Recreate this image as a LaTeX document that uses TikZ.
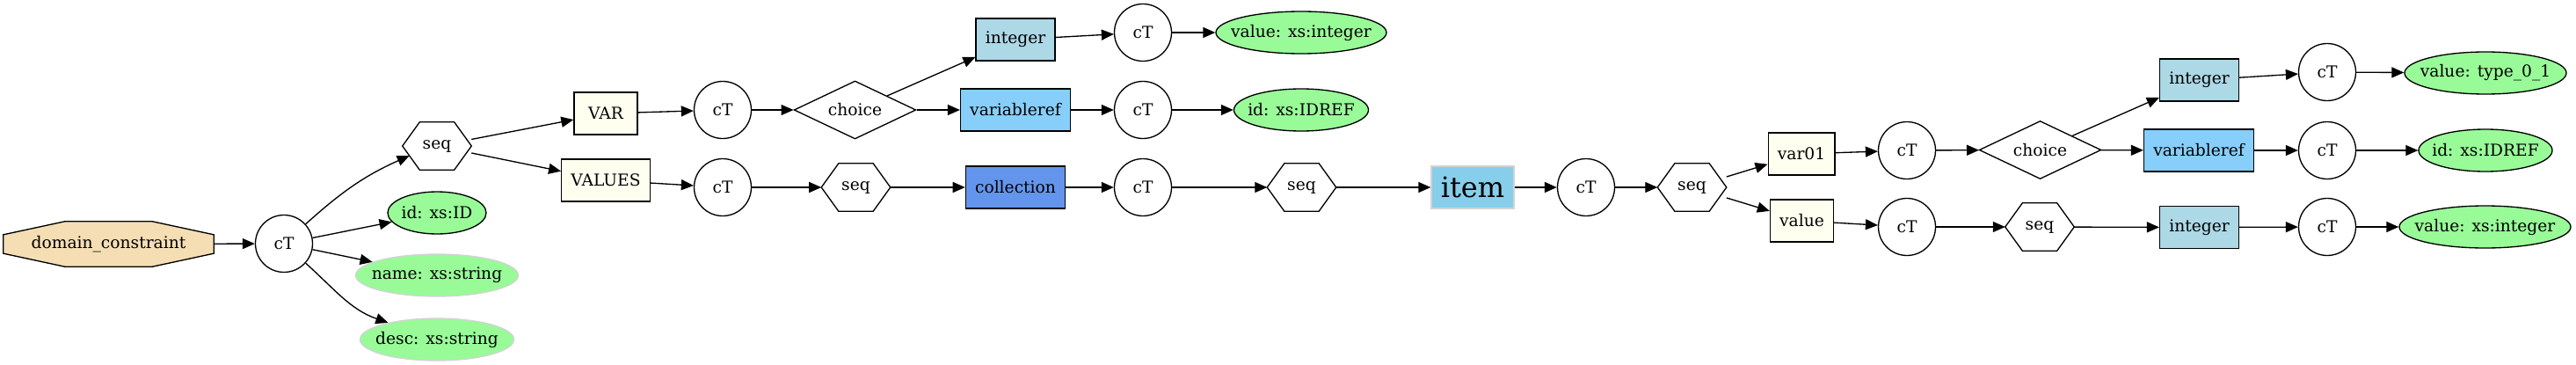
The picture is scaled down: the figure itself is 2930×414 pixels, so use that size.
\documentclass[tikz,border=0pt]{standalone}
\usepackage{fontspec}
\setmainfont{DejaVu Serif}
\usepackage{tikz}
\usetikzlibrary{arrows.meta,shapes.geometric,backgrounds,calc}
\definecolor{wheatColor}{HTML}{F5DEB3}
\definecolor{ivoryColor}{HTML}{FFFFF0}
\definecolor{intBlue}{HTML}{ADD8E6}
\definecolor{refBlue}{HTML}{87CEFA}
\definecolor{collBlue}{HTML}{6495ED}
\definecolor{itemBlue}{HTML}{87CEEB}
\definecolor{attrGreen}{HTML}{98FB98}
\definecolor{edgeGray}{HTML}{D3D3D3}
\newcommand{\zw}[1]{\makebox[0pt]{#1}}

\begin{document}
\begin{tikzpicture}[
    x=0.75pt, y=0.75pt,
    every node/.style={font=\fontsize{14pt}{16pt}\selectfont},
    box/.style={draw, line width=1pt, fill=ivoryColor, minimum height=36pt, minimum width=54pt, inner xsep=8pt, inner ysep=0pt},
    ct/.style={draw, circle, line width=1pt, fill=white, minimum size=48.75pt, inner sep=0pt},
    hexa/.style={minimum width=58.5pt, minimum height=40.5pt, inner sep=0pt},
    octo/.style={minimum width=179.25pt, minimum height=38.25pt, inner sep=0pt},
    chc/.style={draw, diamond, aspect=2, line width=1pt, fill=white, minimum width=104pt, minimum height=49.5pt, inner sep=0pt},
    attr/.style={ellipse, draw, line width=1pt, fill=attrGreen, minimum height=36pt, inner sep=0pt},
    arr/.style={-{Triangle[length=10.5pt,width=9pt]}, line width=1pt}
  ]
  \useasboundingbox (0,0) rectangle (2930,-414);

  \node[octo] (domCon) at (123.5,-277.5) {domain\_constraint};
  \node[ct] (ctDom) at (323,-277) {cT};
  \node[hexa] (seqDom) at (497,-166) {seq};
  \node[attr, minimum width=84pt] (idAttr) at (497,-242) {\zw{id: xs:ID}};
  \node[attr, draw=edgeGray, minimum width=138.75pt] (nameAttr) at (497,-313) {\zw{name: xs:string}};
  \node[attr, draw=edgeGray, minimum width=131.25pt] (descAttr) at (497,-386) {\zw{desc: xs:string}};

  \node[box] (varBox) at (689,-129) {VAR};
  \node[box] (valuesBox) at (689,-205) {VALUES};
  \node[ct] (ctVar) at (822,-125) {cT};
  \node[ct] (ctValues) at (822,-213) {cT};
  \node[chc] (choiceVar) at (972.5,-125) {choice};
  \node[hexa] (seqValues) at (973.5,-213) {seq};
  \node[box, fill=intBlue] (intVar) at (1155,-45) {integer};
  \node[box, fill=refBlue] (refVar) at (1155,-125) {variableref};
  \node[box, fill=collBlue] (collBox) at (1155,-213) {collection};
  \node[ct] (ctIntVar) at (1300,-37) {cT};
  \node[ct] (ctRefVar) at (1300,-125) {cT};
  \node[ct] (ctColl) at (1300,-213) {cT};
  \node[attr, minimum width=145.5pt] (valIntVar) at (1480,-37) {\zw{value: xs:integer}};
  \node[attr, minimum width=114.75pt] (idrefVar) at (1480,-125) {\zw{id: xs:IDREF}};
  \node[hexa] (seqColl) at (1480.5,-213) {seq};

  \node[box, draw=edgeGray, line width=1.2pt, fill=itemBlue, font=\fontsize{24pt}{28pt}\selectfont] (itemBox) at (1675,-213) {item};
  \node[ct] (ctItem) at (1804,-213) {cT};
  \node[hexa] (seqItem) at (1924.5,-213) {seq};
  \node[box] (var01Box) at (2049,-175) {var01};
  \node[box] (valueBox) at (2049.5,-251) {value};
  \node[ct] (ctVar01) at (2169,-171) {cT};
  \node[ct] (ctValue) at (2169,-258) {cT};
  \node[chc] (choiceVar01) at (2320.5,-170.5) {choice};
  \node[hexa] (seqValue) at (2320,-258) {seq};
  \node[box, fill=intBlue] (intVar01) at (2501.5,-91) {integer};
  \node[box, fill=refBlue] (refVar01) at (2501,-171) {variableref};
  \node[box, fill=intBlue] (intValue) at (2501.5,-258.5) {integer};
  \node[ct] (ctIntVar01) at (2647,-82) {cT};
  \node[ct] (ctRefVar01) at (2647,-171) {cT};
  \node[ct] (ctIntValue) at (2647,-258) {cT};
  \node[attr, minimum width=138pt] (typeAttr) at (2827,-83) {\zw{value: type\_0\_1}};
  \node[attr, minimum width=114pt] (idrefVar01) at (2827,-171) {\zw{id: xs:IDREF}};
  \node[attr, minimum width=146.25pt] (valIntValue) at (2826.5,-258) {\zw{value: xs:integer}};

  % octagon and hexagon outlines behind the labels
  \begin{scope}[on background layer]
    \draw[line width=1pt, fill=wheatColor]
      ($(domCon.north west)!0.293!(domCon.north east)$) -- ($(domCon.north west)!0.707!(domCon.north east)$)
      -- ($(domCon.north east)!0.293!(domCon.south east)$) -- ($(domCon.north east)!0.707!(domCon.south east)$)
      -- ($(domCon.south east)!0.293!(domCon.south west)$) -- ($(domCon.south east)!0.707!(domCon.south west)$)
      -- ($(domCon.south west)!0.293!(domCon.north west)$) -- ($(domCon.south west)!0.707!(domCon.north west)$) -- cycle;
    \foreach \h in {seqDom,seqValues,seqColl,seqItem,seqValue}
      \draw[line width=1pt, fill=white] (\h.west) -- ($(\h.north west)!0.25!(\h.north east)$)
        -- ($(\h.north west)!0.75!(\h.north east)$) -- (\h.east)
        -- ($(\h.south west)!0.75!(\h.south east)$) -- ($(\h.south west)!0.25!(\h.south east)$) -- cycle;
  \end{scope}

  \coordinate (seqDomIn) at ($(seqDom.west)+(8,-11)$);

  \draw[arr] (domCon)--(ctDom);
  \draw[arr] (ctDom) to[out=42,in=204] (seqDomIn);
  \draw[arr] (ctDom)--(idAttr);
  \draw[arr] (ctDom)--(nameAttr);
  \draw[arr] (ctDom) to[out=-42,in=161] (descAttr);
  \draw[arr] (seqDom)--(varBox);
  \draw[arr] (seqDom)--(valuesBox);
  \draw[arr] (varBox)--(ctVar);
  \draw[arr] (valuesBox)--(ctValues);
  \draw[arr] (ctVar)--(choiceVar);
  \draw[arr] (choiceVar)--(intVar);
  \draw[arr] (choiceVar)--(refVar);
  \draw[arr] (ctValues)--(seqValues);
  \draw[arr] (seqValues)--(collBox);
  \draw[arr] (intVar)--(ctIntVar);
  \draw[arr] (refVar)--(ctRefVar);
  \draw[arr] (collBox)--(ctColl);
  \draw[arr] (ctIntVar)--(valIntVar);
  \draw[arr] (ctRefVar)--(idrefVar);
  \draw[arr] (ctColl)--(seqColl);
  \draw[arr] (seqColl)--(itemBox);
  \draw[arr] (itemBox)--(ctItem);
  \draw[arr] (ctItem)--(seqItem);
  \draw[arr] (seqItem)--(var01Box);
  \draw[arr] (seqItem)--(valueBox);
  \draw[arr] (var01Box)--(ctVar01);
  \draw[arr] (valueBox)--(ctValue);
  \draw[arr] (ctVar01)--(choiceVar01);
  \draw[arr] (choiceVar01)--(intVar01);
  \draw[arr] (choiceVar01)--(refVar01);
  \draw[arr] (ctValue)--(seqValue);
  \draw[arr] (seqValue)--(intValue);
  \draw[arr] (intVar01)--(ctIntVar01);
  \draw[arr] (refVar01)--(ctRefVar01);
  \draw[arr] (intValue)--(ctIntValue);
  \draw[arr] (ctIntVar01)--(typeAttr);
  \draw[arr] (ctRefVar01)--(idrefVar01);
  \draw[arr] (ctIntValue)--(valIntValue);
\end{tikzpicture}
\end{document}
